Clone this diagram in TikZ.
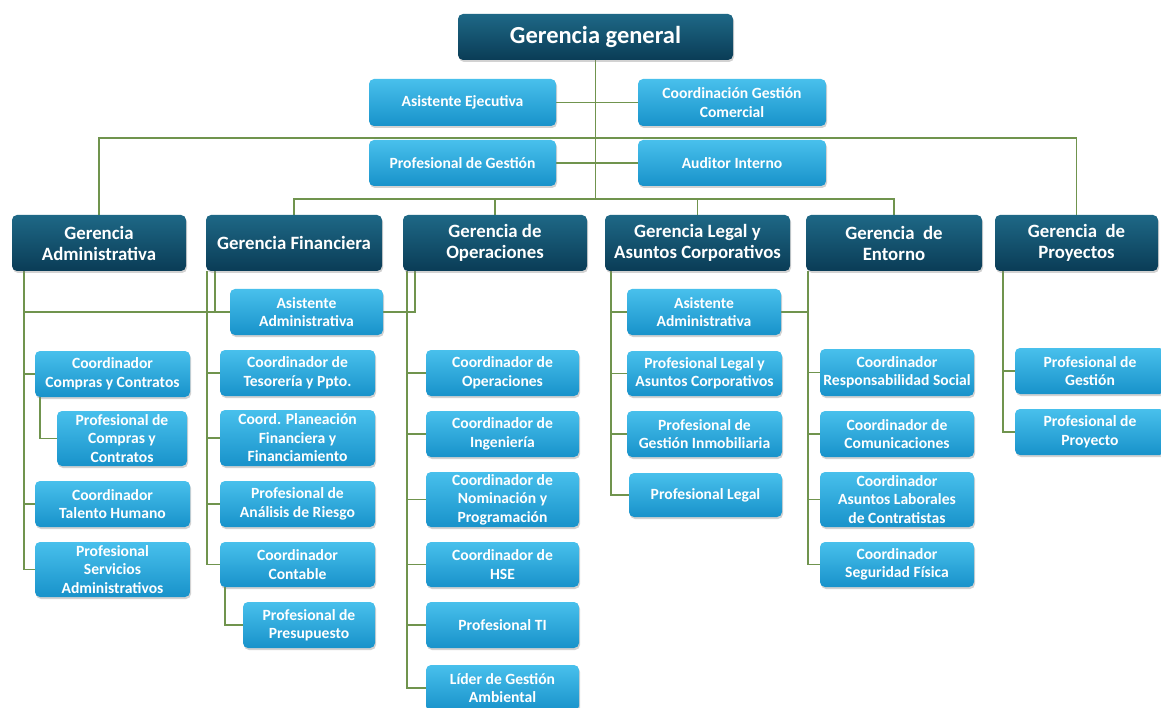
\documentclass[tikz,border=0pt]{standalone}
\usepackage{fontspec}
\setmainfont{Carlito}
\usetikzlibrary{shadows}
\pgfdeclarelayer{bg}
\pgfsetlayers{bg,main}
\definecolor{dktop}{RGB}{30,104,134}
\definecolor{dkbot}{RGB}{10,60,86}
\definecolor{lttop}{RGB}{72,192,236}
\definecolor{ltbot}{RGB}{24,146,202}
\definecolor{lnc}{RGB}{112,148,78}
\tikzset{
  box/.style={rounded corners=5pt, align=center, text=white, inner sep=2pt,
    drop shadow={opacity=0.35, shadow xshift=1pt, shadow yshift=-2pt}},
  dk/.style={box, top color=dktop, bottom color=dkbot, font=\bfseries\fontsize{18.8}{21}\selectfont},
  lt/.style={box, top color=lttop, bottom color=ltbot, font=\bfseries\fontsize{15.6}{18.5}\selectfont},
  sz/.style 2 args={minimum width=#1pt, minimum height=#2pt},
  conn/.style={draw=lnc, line width=1.3pt},
}
\begin{document}
\begin{tikzpicture}[x=1pt,y=-1pt]
\useasboundingbox (0,0) rectangle (1161,708);
% top
\node[dk, sz={275}{46}, font=\bfseries\fontsize{24.5}{26}\selectfont] (gg) at (595.5,37) {Gerencia general};
\node[lt, sz={187}{47}] (ae) at (462.5,102.5) {Asistente Ejecutiva};
\node[lt, sz={188}{47}] (cgc) at (732,102.5) {Coordinación Gestión\\Comercial};
\node[lt, sz={187}{46}] (pg) at (462.5,163) {Profesional de Gestión};
\node[lt, sz={188}{46}] (ai) at (732,163) {Auditor Interno};
% gerencias
\node[dk, sz={174}{56}] (gadm) at (99,243) {Gerencia\\Administrativa};
\node[dk, sz={176}{56}] (gfin) at (294,243) {Gerencia Financiera};
\node[dk, sz={184}{56}] (gop) at (495,243) {Gerencia de\\Operaciones};
\node[dk, sz={185}{56}] (gleg) at (697.5,243) {Gerencia Legal y\\Asuntos Corporativos};
\node[dk, sz={176}{56}] (gent) at (894,243) {Gerencia\ \ de\\Entorno};
\node[dk, sz={163}{56}] (gpro) at (1076.5,243) {Gerencia\ \ de\\Proyectos};
% asistentes administrativas
\node[lt, sz={153}{46}] (aa1) at (306.5,312) {Asistente\\Administrativa};
\node[lt, sz={154}{46}] (aa2) at (704,312) {Asistente\\Administrativa};
% admin
\node[lt, sz={155}{46}] (ccc) at (112.5,374) {Coordinador\\Compras y Contratos};
\node[lt, sz={130}{55}] (pcc) at (122,438.5) {Profesional de\\Compras y\\Contratos};
\node[lt, sz={155}{46}] (cth) at (112.5,504) {Coordinador\\Talento Humano};
\node[lt, sz={155}{55}] (pss) at (112.5,569.5) {Profesional\\Servicios\\Administrativos};
% financiera
\node[lt, sz={155}{46}] (ctp) at (297.5,373) {Coordinador de\\Tesorería y Ppto.};
\node[lt, sz={155}{56}] (cpf) at (297.5,438) {Coord. Planeación\\Financiera y\\Financiamiento};
\node[lt, sz={155}{46}] (par) at (297.5,504) {Profesional de\\Análisis de Riesgo};
\node[lt, sz={155}{45}] (cco) at (297.5,564.5) {Coordinador\\Contable};
\node[lt, sz={132}{46}] (ppr) at (309,625) {Profesional de\\Presupuesto};
% operaciones
\node[lt, sz={153}{46}] (cop) at (502.5,373) {Coordinador de\\Operaciones};
\node[lt, sz={153}{46}] (cin) at (502.5,434) {Coordinador de\\Ingeniería};
\node[lt, sz={153}{55}] (cnp) at (502.5,499.5) {Coordinador de\\Nominación y\\Programación};
\node[lt, sz={153}{45}] (chs) at (502.5,564.5) {Coordinador de\\HSE};
\node[lt, sz={153}{46}] (pti) at (502.5,625) {Profesional TI};
\node[lt, sz={153}{46}] (lga) at (502.5,688) {Líder de Gestión\\Ambiental};
% legal
\node[lt, sz={155}{45}] (plac) at (704.5,373.5) {Profesional Legal y\\Asuntos Corporativos};
\node[lt, sz={155}{46}] (pgi) at (704.5,434) {Profesional de\\Gestión Inmobiliaria};
\node[lt, sz={153}{44}] (pl) at (705.5,495) {Profesional Legal};
% entorno
\node[lt, sz={154}{47}] (crs) at (897,372.5) {Coordinador\\Responsabilidad Social};
\node[lt, sz={154}{46}] (ccm) at (897,434) {Coordinador de\\Comunicaciones};
\node[lt, sz={154}{55}] (cal) at (897,499.5) {Coordinador\\Asuntos Laborales\\de Contratistas};
\node[lt, sz={154}{45}] (csf) at (897,564.5) {Coordinador\\Seguridad Física};
% proyectos
\node[lt, sz={150}{46}] (ppg) at (1090,371) {Profesional de\\Gestión};
\node[lt, sz={150}{46}] (ppy) at (1090,432) {Profesional de\\Proyecto};
% connectors
\coordinate (bus1) at (595.5,138);
\coordinate (bus2) at (595.5,199);
\coordinate (admtop) at (24,271);
\coordinate (ccctop) at (40,397);
\coordinate (fintop) at (207,271);
\coordinate (finaa) at (215,271);
\coordinate (ccotop) at (225,587);
\coordinate (optop) at (407,271);
\coordinate (opaa) at (415,271);
\coordinate (legtop) at (611,271);
\coordinate (enttop) at (808,271);
\coordinate (protop) at (1003,271);
\begin{pgfonlayer}{bg}
\fill[white] (0,0) rectangle (1161,708);
\draw[conn] (gg.south) -- (bus2);
\draw[conn] (ae.east) -- (cgc.west);
\draw[conn] (pg.east) -- (ai.west);
\draw[conn] (gadm.north) |- (bus1) -| (gpro.north);
\draw[conn] (gfin.north) |- (bus2) -| (gent.north);
\draw[conn] (gop.north) |- (bus2);
\draw[conn] (gleg.north) |- (bus2);
% admin
\draw[conn] (admtop) |- (pss.west);
\draw[conn] (admtop |- ccc.west) -- (ccc.west);
\draw[conn] (admtop |- cth.west) -- (cth.west);
\draw[conn] (admtop |- aa1.west) -- (aa1.west);
\draw[conn] (ccctop) |- (pcc.west);
% financiera
\draw[conn] (fintop) |- (cco.west);
\draw[conn] (fintop |- ctp.west) -- (ctp.west);
\draw[conn] (fintop |- cpf.west) -- (cpf.west);
\draw[conn] (fintop |- par.west) -- (par.west);
\draw[conn] (finaa) -- (finaa |- aa1.west);
\draw[conn] (ccotop) |- (ppr.west);
% operaciones
\draw[conn] (optop) |- (lga.west);
\draw[conn] (optop |- cop.west) -- (cop.west);
\draw[conn] (optop |- cin.west) -- (cin.west);
\draw[conn] (optop |- cnp.west) -- (cnp.west);
\draw[conn] (optop |- chs.west) -- (chs.west);
\draw[conn] (optop |- pti.west) -- (pti.west);
\draw[conn] (aa1.east) -| (opaa);
% legal
\draw[conn] (legtop) |- (pl.west);
\draw[conn] (legtop |- aa2.west) -- (aa2.west);
\draw[conn] (legtop |- plac.west) -- (plac.west);
\draw[conn] (legtop |- pgi.west) -- (pgi.west);
\draw[conn] (aa2.east) -- (enttop |- aa2.east);
% entorno
\draw[conn] (enttop) |- (csf.west);
\draw[conn] (enttop |- crs.west) -- (crs.west);
\draw[conn] (enttop |- ccm.west) -- (ccm.west);
\draw[conn] (enttop |- cal.west) -- (cal.west);
% proyectos
\draw[conn] (protop) |- (ppy.west);
\draw[conn] (protop |- ppg.west) -- (ppg.west);
\end{pgfonlayer}
\end{tikzpicture}
\end{document}
